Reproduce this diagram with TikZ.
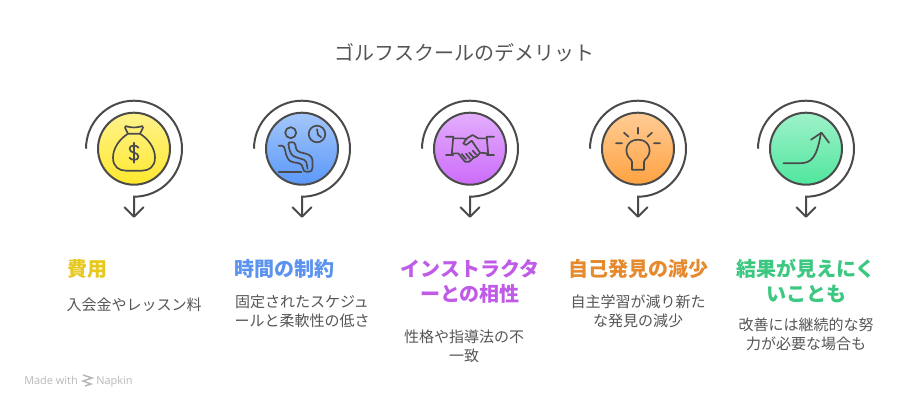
\documentclass[tikz,border=0pt]{standalone}
\usepackage{fontspec}
\setmainfont{Noto Sans CJK JP}
\newfontfamily\wmfont{Open Sans}
\definecolor{ink}{HTML}{4A4A4A}
\definecolor{txt}{HTML}{555555}
\definecolor{HeadA}{HTML}{E6C81E}
\definecolor{HeadB}{HTML}{5B93EE}
\definecolor{HeadC}{HTML}{C05BE8}
\definecolor{HeadD}{HTML}{E58A2E}
\definecolor{HeadE}{HTML}{3CC880}
\tikzset{
  ring/.style={draw=ink,line width=1.5pt,circle,minimum size=54pt,inner sep=0pt},
  hoop/.style={draw=ink,line width=1.5pt},
  glyph/.style={draw=ink,line width=1.25pt,line cap=round,line join=round},
  headtext/.style={font=\fontsize{15}{18.75}\selectfont\bfseries,align=center,inner sep=0pt},
  desctext/.style={font=\fontsize{11.25}{14.1}\selectfont,text=txt,inner sep=0pt,align=center},
  wmtext/.style={font=\wmfont\fontsize{8.2}{10}\selectfont,text=black!28,anchor=base west,inner sep=0pt},
}
\newcommand{\hoopat}[2]{%
  \node[ring,top color=#2!55!white,bottom color=#2] (c#1) at (\csname cx#1\endcsname,148.7) {};
  \coordinate (s#1) at ([xshift=-36pt]c#1.center);
  \coordinate (e#1) at ([yshift=-51pt]c#1.center);
  \draw[hoop] (s#1) arc[start angle=180,end angle=-90,radius=36pt] -- (e#1);
  \draw[hoop,line cap=round,line join=round] ([shift={(-7pt,7pt)}]e#1) -- (e#1) -- ([shift={(7pt,7pt)}]e#1);
}
\begin{document}
\begin{tikzpicture}[x=0.75pt,y=-0.75pt]
\useasboundingbox (0,0) rectangle (924,408);
\fill[white] (0,0) rectangle (924,408);
\def\cxa{134}\def\cxb{302}\def\cxc{470}\def\cxd{638}\def\cxe{806}
\node[font=\fontsize{15}{18}\selectfont,text=txt,inner sep=0pt] (title) at (464,53) {ゴルフスクールのデメリット};
\definecolor{fa}{HTML}{FFE82E}\definecolor{fb}{HTML}{5A98F8}\definecolor{fc}{HTML}{CC6CFA}\definecolor{fd}{HTML}{FFA240}\definecolor{fe}{HTML}{50E69E}
\hoopat{a}{fa}\hoopat{b}{fb}\hoopat{c}{fc}\hoopat{d}{fd}\hoopat{e}{fe}
% money bag
\begin{scope}[shift={(134,148.7)}]
\draw[glyph] (-6,-15) .. controls (-14,-10) and (-21,-1) .. (-21,9) .. controls (-21,18) and (-15,22) .. (-8,22) -- (8,22) .. controls (15,22) and (21,18) .. (21,9) .. controls (21,-1) and (14,-10) .. (6,-15) -- cycle;
\draw[glyph] (-6,-15) -- (-9,-21) .. controls (-9,-23) and (-8,-23) .. (-6,-22) .. controls (-2,-21) and (2,-21) .. (6,-22) .. controls (8,-23) and (9,-23) .. (9,-21) -- (6,-15);
\draw[glyph] (0,-6) -- (0,14);
\draw[glyph] (4.5,-1) .. controls (3,-4) and (-4.5,-4) .. (-4.5,0) .. controls (-4.5,5) and (4.5,3) .. (4.5,8) .. controls (4.5,12) and (-3,12) .. (-4.5,9);
\end{scope}
% seated person + clock
\begin{scope}[shift={(302,148.7)}]
\draw[glyph] (-11.3,-16) circle[radius=5.5];
\draw[glyph] (15,-14.7) circle[radius=8.3];
\draw[glyph] (15,-19.5) -- (16,-14) -- (19,-11.5);
\draw[glyph] (-23.3,23) -- (-0.5,23);
\draw[glyph] (-23.3,-3) -- (-20,-3) .. controls (-18,-3) and (-17.5,-1) .. (-17,1) .. controls (-16,7) and (-14,13) .. (-9,13.5) -- (-3,14.5) .. controls (-0.5,15) and (0.5,17) .. (1,19.5) .. controls (1.5,22) and (2,23) .. (4,23) -- (7,23);
\draw[glyph] (-13.5,-4.5) .. controls (-14,-6) and (-12.5,-6.5) .. (-10,-6.5) .. controls (-8,-6.5) and (-7,-5.5) .. (-6.5,-3.5) .. controls (-6,0) and (-6,2) .. (-2,3.5) -- (4,5) .. controls (9,6.5) and (10.5,9) .. (10.5,13) -- (10.5,19) .. controls (10.5,22) and (9,23) .. (7,23);
\draw[glyph] (-13.5,-4.5) .. controls (-13,0) and (-12,5) .. (-9,7) .. controls (-6,9) and (-1,10) .. (2,11) .. controls (4,12) and (5,14) .. (5,17) -- (5.5,20);
\end{scope}
% handshake
\begin{scope}[shift={(470,148.7)}]
\draw[glyph] (-24,-12) -- (-16.7,-12) -- (-18.3,6.3) (-24,6.3) -- (-16.7,6.3);
\draw[glyph] (24,-12) -- (16.7,-12) -- (18.3,6.3) (24,6.3) -- (16.7,6.3);
\draw[glyph] (-16.7,-10.3) -- (-6.7,-10.3) -- (-3.3,-9.3);
\draw[glyph] (16.7,-10.3) -- (8.3,-10.3) -- (2.7,-13.7) -- (-3.3,-10.3) -- (-6.7,-5.3) -- (-4,-3.7) -- (1.7,-8) -- (10,4) -- (18,4.7);
\draw[glyph] (-18.3,4.7) -- (-11.7,4.7) -- (-5,13) -- (-0.7,13) .. controls (1,12) and (2,10) .. (3,9.5) .. controls (6,9) and (8,7) .. (10,4);
\draw[glyph] (-0.7,4) -- (3.3,8.5) (2.7,2) -- (6.7,6.3) (-8.3,5.3) -- (-4,10.3) (-4,5) -- (0,10);
\end{scope}
% bulb
\begin{scope}[shift={(638,148.7)}]
\draw[glyph] (0,-21) -- (0,-15) (-14,-16) -- (-9.5,-12) (14,-16) -- (9.5,-12) (-22,-5.5) -- (-16,-5.5) (22,-5.5) -- (16,-5.5);
\draw[glyph] (-6,21) -- (6,21) -- (6,13) .. controls (6,11) and (8,10.5) .. (9,9) .. controls (14,3) and (12,-9) .. (0,-9) .. controls (-12,-9) and (-14,3) .. (-9,9) .. controls (-8,10.5) and (-6,11) .. (-6,13) -- cycle;
\end{scope}
% growth arrow
\begin{scope}[shift={(806,148.7)}]
\draw[glyph] (-22.5,14.5) -- (-6,14.5) .. controls (6,14.5) and (11,8) .. (15,-16);
\draw[glyph] (5,-9) -- (15.5,-16) -- (23,-6);
\end{scope}
% headings
\node[headtext,text=HeadA,anchor=west] (ha) at (67,269) {費用};
\node[headtext,text=HeadB,anchor=west] (hb) at (234,269) {時間の制約};
\node[headtext,text=HeadC] (hc) at (470,281) {インストラクタ\\ーとの相性};
\node[headtext,text=HeadD] (hd) at (638,269) {自己発見の減少};
\node[headtext,text=HeadE] (he) at (806,281) {結果が見えにく\\いことも};
% descriptions
\node[desctext] (da) at (134,304.5) {入会金やレッスン料};
\node[desctext] (db) at (302,311) {固定されたスケジュ\\ールと柔軟性の低さ};
\node[desctext] (dc) at (464,346.5) {性格や指導法の不\\一致};
\node[desctext] (dd) at (638,311) {自主学習が減り新た\\な発見の減少};
\node[desctext] (de) at (806,334.5) {改善には継続的な努\\力が必要な場合も};
% watermark
\node[wmtext] (wm1) at (24,384) {Made with};
\node[wmtext] (wm2) at (96,384) {Napkin};
\draw[black!28,line width=1.1pt] (83,375) -- (92,378) -- (83,381) -- (91,384) -- (85,386);
\end{tikzpicture}
\end{document}
